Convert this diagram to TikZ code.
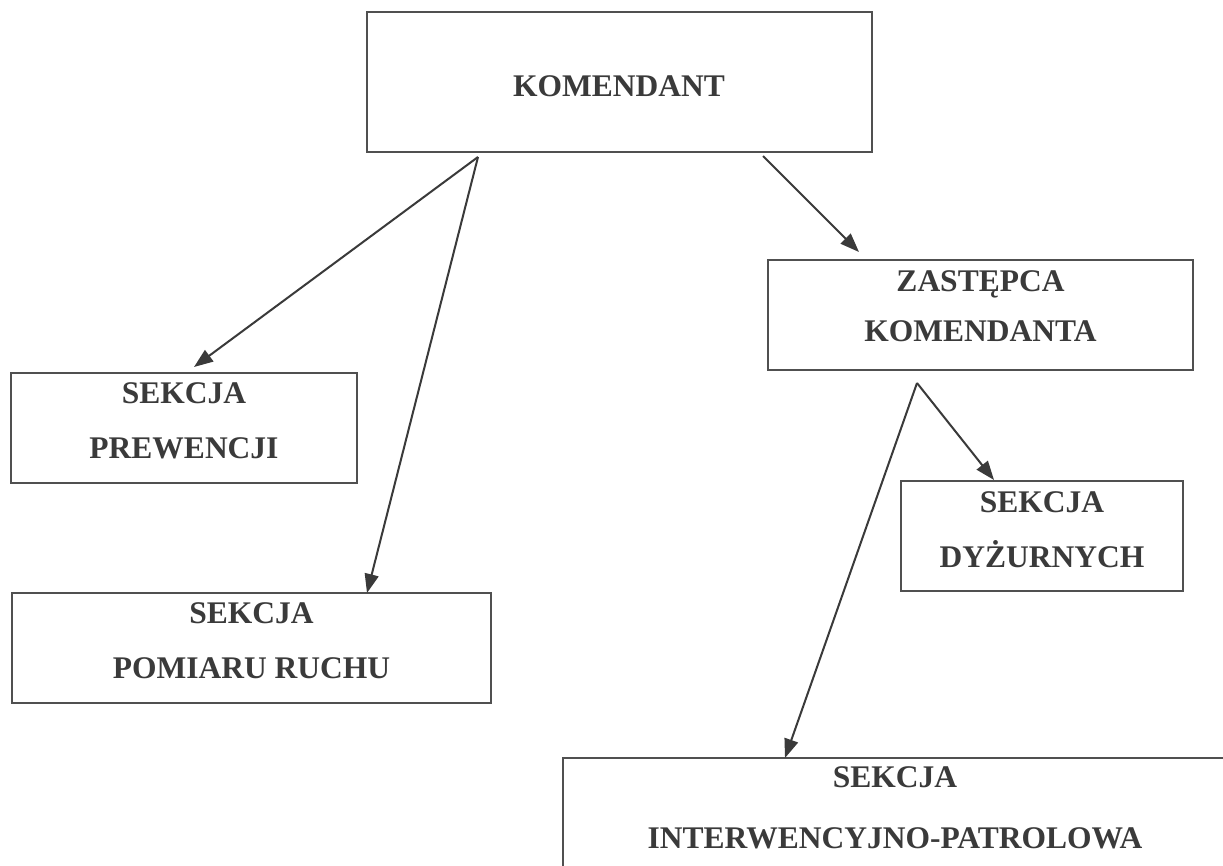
\documentclass[tikz,border=0pt]{standalone}
\usepackage{fontspec}
\setmainfont{Liberation Serif}
\usetikzlibrary{arrows.meta}
\definecolor{ink}{HTML}{3A3A3A}
\definecolor{edge}{HTML}{505050}
\begin{document}
\begin{tikzpicture}[x=1pt,y=-1pt,
  box/.style={draw=edge,line width=2pt,inner sep=0pt},
  lbl/.style={anchor=base,inner sep=0pt,text=ink,font=\fontsize{31.5}{38}\selectfont\bfseries},
  link/.style={draw=ink,line width=2pt,-{Triangle[length=19pt,width=14pt]}}]
\useasboundingbox[fill=white] (0,0) rectangle (1223,866);
% boxes
\node[box,minimum width=505pt,minimum height=140pt] (kom) at (619.5,82) {};
\node[box,minimum width=425pt,minimum height=110pt] (zas) at (980.5,315) {};
\node[box,minimum width=346pt,minimum height=110pt] (prew) at (184,428) {};
\node[box,minimum width=479pt,minimum height=110pt] (pom) at (251.5,648) {};
\node[box,minimum width=282pt,minimum height=110pt] (dyz) at (1042,536) {};
\node[box,minimum width=664pt,minimum height=160pt] (int) at (895,838) {};
% texts
\node[lbl] (t1) at (619,96.5) {KOMENDANT};
\node[lbl] (t2) at (980.5,292) {ZASTĘPCA};
\node[lbl] (t3) at (980.5,342) {KOMENDANTA};
\node[lbl] (t4) at (184,403) {SEKCJA};
\node[lbl] (t5) at (184,458) {PREWENCJI};
\node[lbl] (t6) at (251.5,623) {SEKCJA};
\node[lbl] (t7) at (251.5,678) {POMIARU RUCHU};
\node[lbl] (t8) at (1042,512) {SEKCJA};
\node[lbl] (t9) at (1042,567) {DYŻURNYCH};
\node[lbl] (t10) at (895,787) {SEKCJA};
\node[lbl] (t11) at (895,848) {INTERWENCYJNO-PATROLOWA};
% connector ends
\coordinate (ka) at (478,157);
\coordinate (kb) at (763,156);
\coordinate (za) at (917,383);
\coordinate (ep) at (194,367);
\coordinate (em) at (367,593);
\coordinate (ez) at (859,252);
\coordinate (ed) at (994,480);
\coordinate (ei) at (785,758);
\draw[link] (ka) -- (ep);
\draw[link] (ka) -- (em);
\draw[link] (kb) -- (ez);
\draw[link] (za) -- (ed);
\draw[link] (za) -- (ei);
\end{tikzpicture}
\end{document}
